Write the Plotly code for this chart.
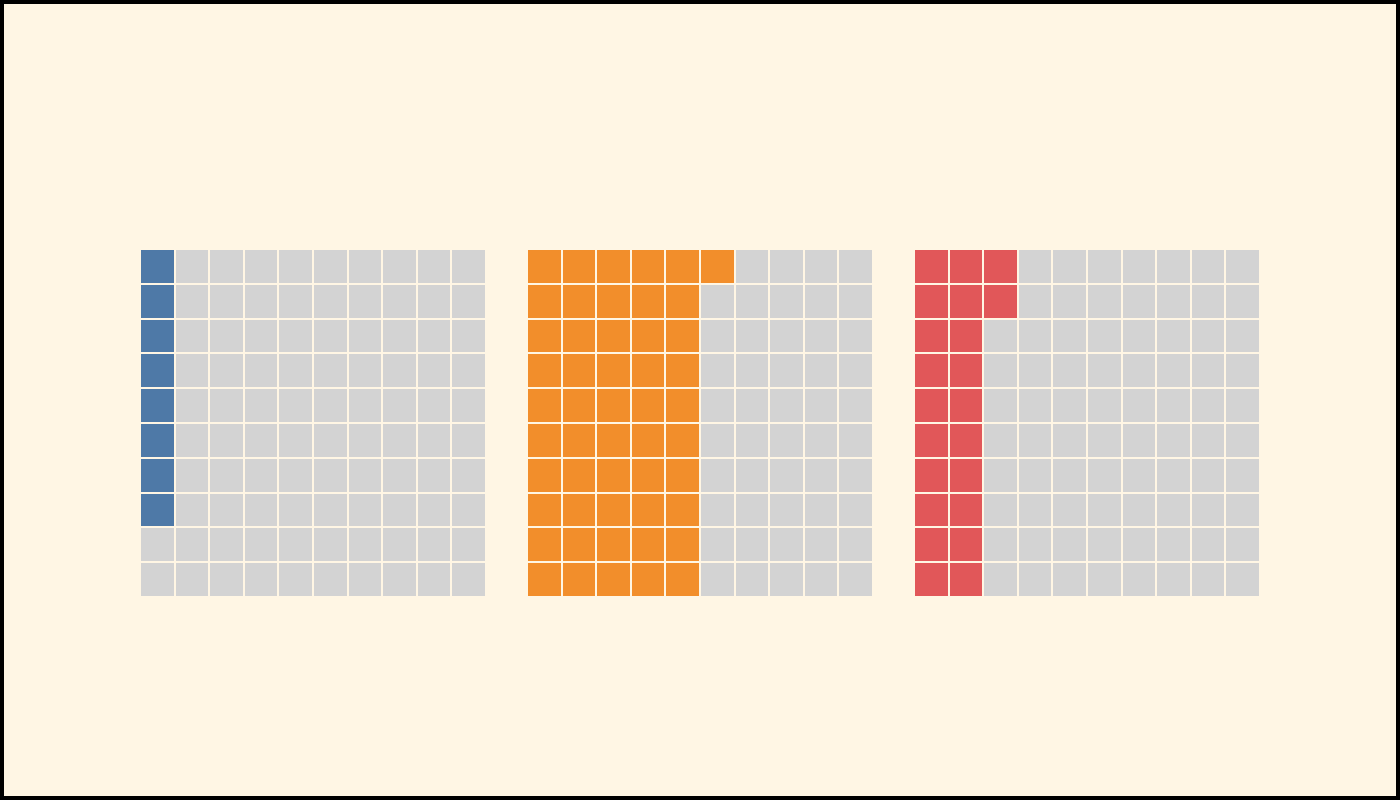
import plotly.graph_objects as go

# Data
categories = ["A", "B", "C"]
values = [8, 51, 22]
colors = ["#4E79A7", "#F28E2B", "#E15759"]
empty_color = "#D3D3D3"
bg = "#FFF6E4"
n_rows = 10
n_cols = 10

W, H = 1400, 800
x_domains = [(140, 486), (527, 873), (914, 1260)]
y_px = (249, 597)

fig = go.Figure()
for k, (cat, val, col) in enumerate(zip(categories, values, colors)):
    z = [[0] * n_cols for _ in range(n_rows)]
    for i in range(val):
        c = i // n_rows
        r = i % n_rows
        z[r][c] = 1
    ax = "" if k == 0 else str(k + 1)
    fig.add_trace(go.Heatmap(
        z=z, x=list(range(n_cols)), y=list(range(n_rows)),
        zmin=0, zmax=1,
        colorscale=[[0, empty_color], [0.5, empty_color], [0.5, col], [1, col]],
        showscale=False, xgap=2, ygap=2,
        xaxis="x" + ax, yaxis="y" + ax,
        name=cat,
        hovertemplate=cat + ": " + str(val) + "%<extra></extra>",
    ))
    x0, x1 = x_domains[k]
    axis_common = dict(visible=False, showgrid=False, zeroline=False, fixedrange=True)
    fig.update_layout(**{
        "xaxis" + ax: dict(domain=[x0 / W, x1 / W], range=[-0.5, n_cols - 0.5], anchor="y" + ax, **axis_common),
        "yaxis" + ax: dict(domain=[1 - y_px[1] / H, 1 - y_px[0] / H], range=[n_rows - 0.5, -0.5], anchor="x" + ax, **axis_common),
    })

fig.add_shape(type="rect", xref="paper", yref="paper", x0=2 / W, x1=1 - 2 / W, y0=2 / H, y1=1 - 2 / H,
              line=dict(color="black", width=4), fillcolor="rgba(0,0,0,0)", layer="above")

fig.update_layout(
    width=W, height=H,
    margin=dict(l=0, r=0, t=0, b=0),
    paper_bgcolor=bg, plot_bgcolor=bg,
    showlegend=False,
)

fig.write_html("out.html",
               config={"displayModeBar": False},
               post_script="document.body.style.margin='0';document.body.style.overflow='hidden';")
